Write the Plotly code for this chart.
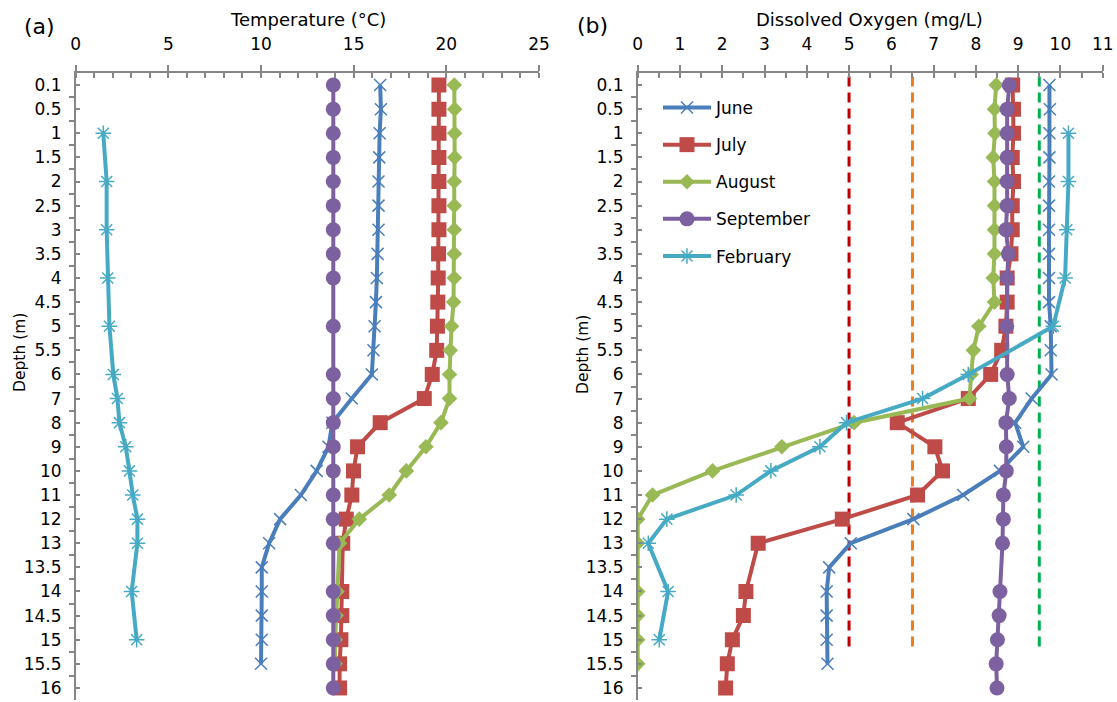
import plotly.graph_objects as go

# ---------------- data ----------------
depth_labels = ["0.1", "0.5", "1", "1.5", "2", "2.5", "3", "3.5", "4", "4.5", "5", "5.5", "6",
                "7", "8", "9", "10", "11", "12", "13", "13.5", "14", "14.5", "15", "15.5", "16"]

months = ["June", "July", "August", "September", "February"]

temp_june = [16.43, 16.47, 16.40, 16.38, 16.34, 16.34, 16.34, 16.29, 16.25, 16.2, 16.13, 16.07, 15.98,
             14.9, 13.85, 13.64, 13.0, 12.15, 11.03, 10.44, 10.04, 10.04, 10.04, 10.04, 10.0, None]
temp_july = [19.6, 19.6, 19.6, 19.6, 19.6, 19.6, 19.6, 19.58, 19.56, 19.54, 19.52, 19.48, 19.24,
             18.81, 16.43, 15.21, 14.99, 14.9, 14.6, 14.41, None, 14.36, 14.36, 14.31, 14.24, 14.24]
temp_august = [20.43, 20.45, 20.45, 20.45, 20.43, 20.43, 20.43, 20.43, 20.43, 20.39, 20.28, 20.21, 20.17,
               20.17, 19.71, 18.9, 17.84, 16.92, 15.3, 14.24, None, 14.1, 14.05, 14.0, 14.0, None]
temp_september = [13.9, 13.9, 13.9, 13.9, 13.9, 13.9, 13.9, 13.9, 13.9, None, 13.9, None, 13.9,
                  13.9, 13.9, 13.9, 13.9, 13.9, 13.9, 13.9, None, 13.9, 13.9, 13.9, 13.9, 13.9]
temp_february = [None, None, 1.49, None, 1.67, None, 1.67, None, 1.73, None, 1.82, None, 2.03,
                 2.25, 2.36, 2.7, 2.9, 3.08, 3.33, 3.33, None, 3.02, None, 3.29, None, None]

do_june = [9.74, 9.75, 9.74, 9.74, 9.73, 9.73, 9.73, 9.73, 9.73, 9.73, 9.77, 9.77, 9.79,
           9.32, 8.93, 9.12, 8.57, 7.70, 6.52, 5.04, 4.53, 4.47, 4.47, 4.47, 4.49, None]
do_july = [8.87, 8.89, 8.89, 8.86, 8.89, 8.86, 8.86, 8.83, 8.74, 8.74, 8.71, 8.61, 8.35,
           7.82, 6.14, 7.03, 7.21, 6.62, 4.84, 2.85, None, 2.56, 2.5, 2.24, 2.12, 2.08]
do_august = [8.48, 8.44, 8.45, 8.41, 8.44, 8.44, 8.44, 8.44, 8.41, 8.44, 8.07, 7.94, 7.89,
             7.85, 5.12, 3.41, 1.77, 0.35, 0.0, 0.0, None, 0.0, 0.0, 0.0, 0.0, None]
do_september = [8.79, 8.74, 8.74, 8.74, 8.74, 8.74, 8.71, 8.77, 8.74, None, 8.73, None, 8.74,
                8.79, 8.71, 8.72, 8.72, 8.65, 8.65, 8.63, None, 8.57, 8.55, 8.51, 8.48, 8.5]
do_february = [None, None, 10.19, None, 10.19, None, 10.15, None, 10.11, None, 9.83, None, 7.82,
               6.74, 4.94, 4.31, 3.15, 2.33, 0.69, 0.25, None, 0.72, None, 0.51, None, None]

do_thresholds = [5.0, 6.5, 9.5]

# ---------------- styles ----------------
W, H = 1117, 702
FONT = "DejaVu Sans"
AXIS_GREY = "#868686"
colors = ["#4A7EBB", "#BE4B48", "#98B954", "#7D60A0", "#46AAC5"]
symbols = ["x-thin-open", "square", "diamond", "circle", "asterisk-open"]
msizes = [12, 15, 12, 15, 13]
threshold_colors = ["#C00000", "#F07C1B", "#00B050"]

temp_series = [temp_june, temp_july, temp_august, temp_september, temp_february]
do_series = [do_june, do_july, do_august, do_september, do_february]
ypos = list(range(len(depth_labels)))

fig = go.Figure()


def add_series(xvals, name, i, xa, ya, show):
    sym = symbols[i]
    open_sym = sym.endswith("open")
    fig.add_trace(go.Scatter(
        x=xvals, y=ypos, name=name, mode="lines+markers",
        xaxis=xa, yaxis=ya, connectgaps=True, showlegend=show,
        legendgroup=name,
        line=dict(color=colors[i], width=4),
        marker=dict(symbol=sym, size=msizes[i], color=colors[i],
                    line=dict(color=colors[i], width=1.5 if open_sym else 0)),
    ))


for i, m in enumerate(months):
    add_series(temp_series[i], m, i, "x", "y", False)

for i, m in enumerate(months):
    add_series(do_series[i], m, i, "x2", "y2", True)

# threshold lines (panel b)
for v, c in zip(do_thresholds, threshold_colors):
    fig.add_shape(type="line", xref="x2", yref="y2", x0=v, x1=v, y0=-0.35, y1=23.3,
                  line=dict(color=c, width=3, dash="10px,6px"), layer="below")

ydom = [1 - 700 / H, 1 - 73 / H]
xdom_a = [75.7 / W, 539 / W]
xdom_b = [637.7 / W, 1102.7 / W]

common_x = dict(side="top", showline=True, linecolor=AXIS_GREY, linewidth=1.5,
                ticks="outside", ticklen=6, tickwidth=1.5, tickcolor=AXIS_GREY,
                showgrid=False, zeroline=False, automargin=False,
                tickfont=dict(family=FONT, size=17, color="black"),
                ticklabelstandoff=8)
common_y = dict(showline=True, linecolor=AXIS_GREY, linewidth=1.5, automargin=False,
                range=[25.5, -0.5], tickmode="array", tickvals=ypos, ticktext=depth_labels,
                ticks="inside", ticklen=5, tickwidth=1.5, tickcolor=AXIS_GREY,
                minor=dict(tickmode="array", tickvals=[k + 0.5 for k in range(-1, 26)],
                           ticks="outside", ticklen=5, tickwidth=1.5, tickcolor=AXIS_GREY),
                showgrid=False, zeroline=False,
                tickfont=dict(family=FONT, size=17, color="black"),
                ticklabelstandoff=9)

overlay_x = dict(side="top", showline=False, showticklabels=False, showgrid=False,
                 zeroline=False, automargin=False,
                 ticks="inside", ticklen=5, tickwidth=1.5, tickcolor=AXIS_GREY)

fig.update_layout(
    width=W, height=H,
    margin=dict(l=0, r=0, t=0, b=0, autoexpand=False),
    paper_bgcolor="white", plot_bgcolor="rgba(0,0,0,0)",
    font=dict(family=FONT, color="black"),
    xaxis=dict(domain=xdom_a, range=[0, 25], dtick=5, anchor="y",
               minor=dict(dtick=1, ticks="inside", ticklen=5, tickwidth=1.5, tickcolor=AXIS_GREY),
               **common_x),
    yaxis=dict(domain=ydom, anchor="x", **common_y),
    xaxis2=dict(domain=xdom_b, range=[0, 11], dtick=1, anchor="y2",
                minor=dict(dtick=0.5, ticks="inside", ticklen=5, tickwidth=1.5, tickcolor=AXIS_GREY),
                **common_x),
    yaxis2=dict(domain=ydom, anchor="x2", **common_y),
    xaxis3=dict(overlaying="x", range=[0, 25], dtick=5, anchor="y", **overlay_x),
    xaxis4=dict(overlaying="x2", range=[0, 11], dtick=1, anchor="y2", **overlay_x),
    legend=dict(x=658 / W, y=1 - 90 / H, xanchor="left", yanchor="top",
                bgcolor="rgba(0,0,0,0)", font=dict(family=FONT, size=17, color="black"),
                itemwidth=48, tracegroupgap=12),
    showlegend=True,
)

annos = [
    dict(text="(a)", x=39 / W, y=1 - 27 / H, font=dict(size=22)),
    dict(text="(b)", x=592 / W, y=1 - 26 / H, font=dict(size=22)),
    dict(text="Temperature (°C)", x=308 / W, y=1 - 19 / H, font=dict(size=18)),
    dict(text="Dissolved Oxygen (mg/L)", x=869 / W, y=1 - 19 / H, font=dict(size=18)),
    dict(text="Depth (m)", x=20 / W, y=1 - 353 / H, font=dict(size=15.5), textangle=-90),
    dict(text="Depth (m)", x=583 / W, y=1 - 355 / H, font=dict(size=15.5), textangle=-90),
]
for a in annos:
    a.update(xref="paper", yref="paper", showarrow=False, xanchor="center", yanchor="middle")
    a["font"].update(family=FONT, color="black")
    fig.add_annotation(**a)

fig.write_html("out.html",
               config={"displayModeBar": False},
               post_script="document.body.style.margin='0';document.body.style.overflow='hidden';")
